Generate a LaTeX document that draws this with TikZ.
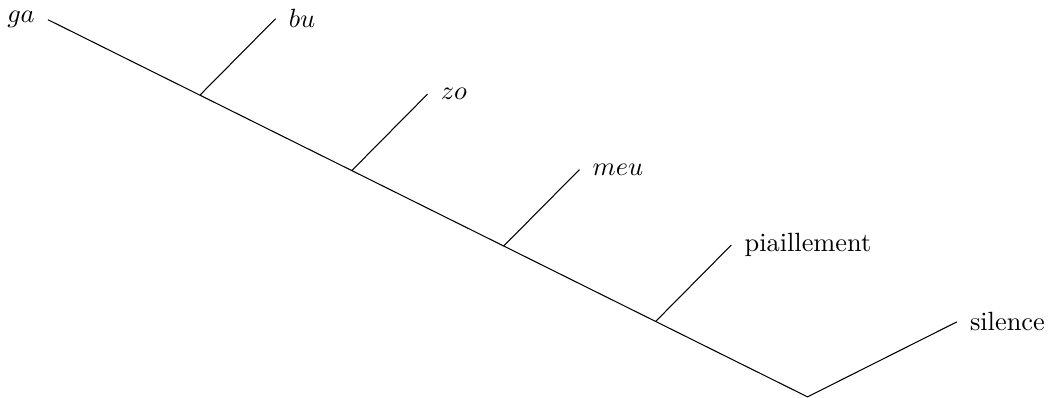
\documentclass[tikz,border=0pt]{standalone}
\usetikzlibrary{calc}
\tikzset{
    % Leaf labels
    leaf/.style={
        anchor=west,
        xshift=1.5pt
    },
    % Branches
    branch/.style={
        black,
        line width=0.4pt
    }
}
\begin{document}
\begin{tikzpicture}

\useasboundingbox (-10.77,-0.013) rectangle (3.22,5.293);

% === ROOT AND SPINE ===
\coordinate (root) at (0,0);
\coordinate (gaend) at (-10.13,5.03);
\node[anchor=east, xshift=-1.5pt] (ga) at (gaend) {$ga$};

% Branch points on the spine
\coordinate (jbu) at ($(root)!0.8!(gaend)$);
\coordinate (jzo) at ($(root)!0.6!(gaend)$);
\coordinate (jmeu) at ($(root)!0.4!(gaend)$);
\coordinate (jpia) at ($(root)!0.2!(gaend)$);

% Leaf tips
\coordinate (tbu) at ($(jbu)+(1.01,1.02)$);
\coordinate (tzo) at ($(jzo)+(1.01,1.02)$);
\coordinate (tmeu) at ($(jmeu)+(1.01,1.02)$);
\coordinate (tpia) at ($(jpia)+(1.01,1.02)$);
\coordinate (tsil) at (1.99,1);

% Leaf labels
\node[leaf] (bu) at (tbu) {$bu$};
\node[leaf] (zo) at (tzo) {$zo$};
\node[leaf] (meu) at (tmeu) {$meu$};
\node[leaf] (pia) at (tpia) {piaillement};
\node[leaf] (sil) at (tsil) {silence};

% Connectors
\draw[branch] (gaend) -- (root) -- (tsil);
\draw[branch] (jbu) -- (tbu);
\draw[branch] (jzo) -- (tzo);
\draw[branch] (jmeu) -- (tmeu);
\draw[branch] (jpia) -- (tpia);

\end{tikzpicture}
\end{document}
